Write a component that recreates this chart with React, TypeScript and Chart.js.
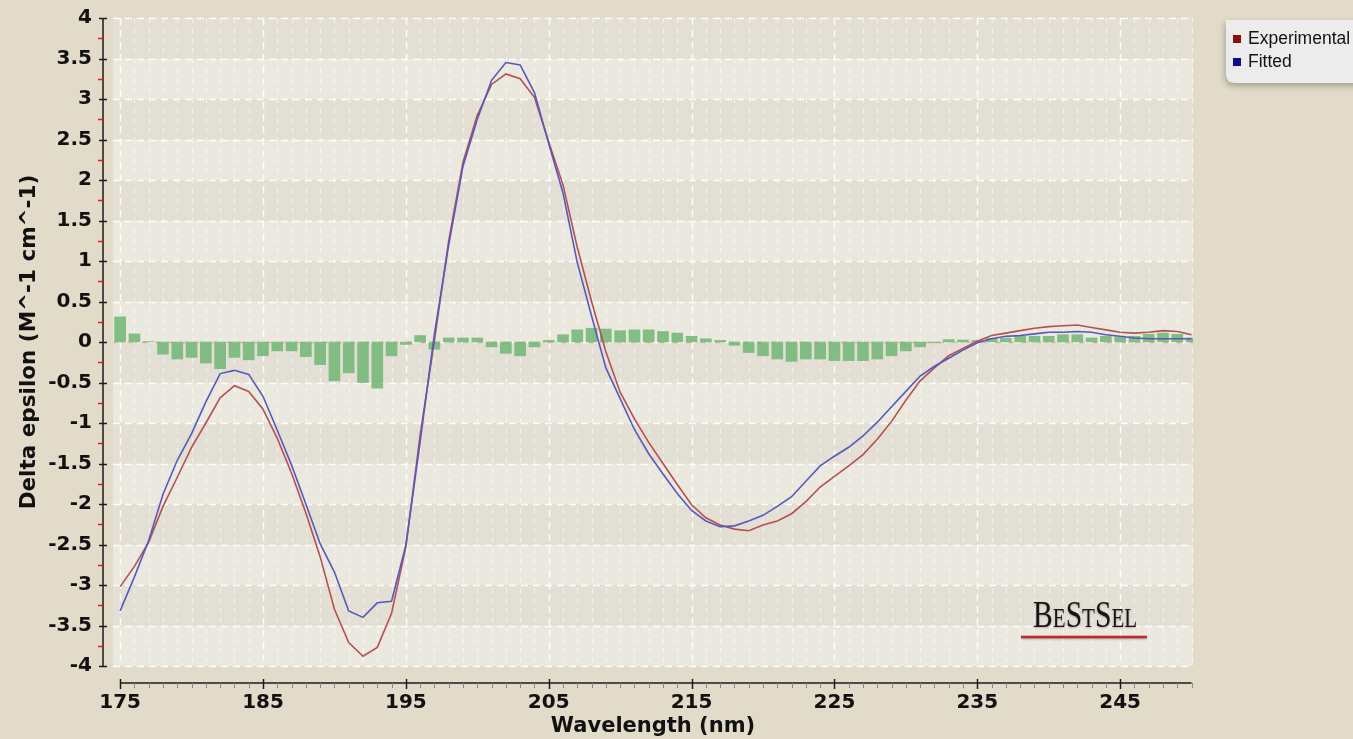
import { useEffect, useRef } from 'react';
import { Chart, registerables } from 'chart.js';

Chart.register(...registerables);

// ---------- data ----------
const wavelengths = [
  175, 176, 177, 178, 179, 180, 181, 182, 183, 184, 185, 186, 187, 188, 189, 190, 191, 192, 193,
  194, 195, 196, 197, 198, 199, 200, 201, 202, 203, 204, 205, 206, 207, 208, 209, 210, 211, 212,
  213, 214, 215, 216, 217, 218, 219, 220, 221, 222, 223, 224, 225, 226, 227, 228, 229, 230, 231,
  232, 233, 234, 235, 236, 237, 238, 239, 240, 241, 242, 243, 244, 245, 246, 247, 248, 249, 250,
];

const experimental = [
  -3.02, -2.77, -2.47, -2.03, -1.67, -1.3, -1.0, -0.69, -0.54, -0.61, -0.83, -1.19, -1.62, -2.11,
  -2.65, -3.3, -3.71, -3.88, -3.77, -3.35, -2.53, -1.15, 0.02, 1.25, 2.22, 2.8, 3.18, 3.31, 3.25,
  3.02, 2.47, 1.94, 1.17, 0.5, -0.12, -0.62, -0.95, -1.24, -1.5, -1.76, -2.01, -2.17, -2.26, -2.31,
  -2.33, -2.26, -2.21, -2.12, -1.97, -1.79, -1.66, -1.53, -1.39, -1.2, -0.98, -0.72, -0.48, -0.32,
  -0.17, -0.08, 0.01, 0.08, 0.11, 0.14, 0.17, 0.19, 0.2, 0.21, 0.18, 0.15, 0.12, 0.11, 0.12, 0.14,
  0.13, 0.09,
];

const fitted = [
  -3.32, -2.9, -2.45, -1.88, -1.46, -1.13, -0.74, -0.39, -0.35, -0.4, -0.67, -1.09, -1.52, -2.0,
  -2.49, -2.84, -3.32, -3.4, -3.22, -3.2, -2.51, -1.23, 0.1, 1.2, 2.17, 2.75, 3.23, 3.45, 3.42,
  3.08, 2.45, 1.84, 0.98, 0.32, -0.32, -0.7, -1.08, -1.38, -1.63, -1.87, -2.08, -2.21, -2.28,
  -2.27, -2.21, -2.14, -2.03, -1.91, -1.72, -1.53, -1.41, -1.3, -1.16, -0.99, -0.8, -0.61, -0.42,
  -0.3, -0.2, -0.1, -0.01, 0.04, 0.07, 0.08, 0.1, 0.12, 0.12, 0.13, 0.12, 0.09, 0.07, 0.05, 0.04,
  0.04, 0.04, 0.04,
];

const residuals = [
  0.31, 0.1, 0.005, -0.15, -0.21, -0.19, -0.26, -0.33, -0.19, -0.22, -0.17, -0.11, -0.11, -0.18,
  -0.28, -0.48, -0.38, -0.5, -0.57, -0.17, -0.03, 0.08, -0.09, 0.05, 0.05, 0.05, -0.06, -0.14,
  -0.17, -0.06, 0.02, 0.09, 0.15, 0.17, 0.16, 0.14, 0.15, 0.15, 0.13, 0.11, 0.07, 0.04, 0.02,
  -0.04, -0.13, -0.17, -0.21, -0.24, -0.21, -0.21, -0.23, -0.23, -0.23, -0.21, -0.17, -0.11,
  -0.06, -0.01, 0.03, 0.025, 0.02, 0.045, 0.045, 0.07, 0.07, 0.07, 0.09, 0.09, 0.05, 0.07, 0.065,
  0.07, 0.095, 0.11, 0.095, 0.05,
];

const xTickValues = [175, 185, 195, 205, 215, 225, 235, 245];
const seriesNames = ['Experimental', 'Fitted'];
const xTitle = 'Wavelength (nm)';
const yTitle = 'Delta epsilon (M^-1 cm^-1)';
const logoParts = ['B', 'E', 'S', 'T', 'S', 'EL'];

// ---------- styles ----------
const PAGE_BG = '#e2dbca';
const BAND_LIGHT = '#ebe8df';
const BAND_DARK = '#e3dfd4';
const RED = '#b5504f';
const BLUE = '#5459bd';
const GREEN = 'rgba(112,182,116,0.85)';
const AXIS_FONT = '"DejaVu Sans", Verdana, sans-serif';

const decorPlugin = {
  id: 'decor',
  beforeDatasetsDraw(chart: any) {
    const { ctx, chartArea: ca, scales } = chart;
    const x = scales.x;
    const y = scales.y;
    ctx.save();
    for (let i = 0; i < 16; i++) {
      const v0 = -4 + i * 0.5;
      const top = y.getPixelForValue(v0 + 0.5);
      const bot = y.getPixelForValue(v0);
      ctx.fillStyle = i % 2 === 0 ? BAND_LIGHT : BAND_DARK;
      ctx.fillRect(ca.left, top, ca.right - ca.left, bot - top);
    }
    ctx.lineWidth = 1;
    ctx.setLineDash([5, 5]);
    ctx.strokeStyle = 'rgba(255,255,255,0.55)';
    for (const w of wavelengths) {
      if ((w - 175) % 10 === 0) continue;
      const px = Math.round(x.getPixelForValue(w)) + 0.5;
      ctx.beginPath();
      ctx.moveTo(px, ca.top);
      ctx.lineTo(px, ca.bottom);
      ctx.stroke();
    }
    ctx.lineWidth = 1.5;
    ctx.setLineDash([7, 5]);
    ctx.strokeStyle = 'rgba(255,255,255,0.9)';
    for (const w of xTickValues) {
      const px = Math.round(x.getPixelForValue(w)) + 0.5;
      ctx.beginPath();
      ctx.moveTo(px, ca.top);
      ctx.lineTo(px, ca.bottom);
      ctx.stroke();
    }
    for (let i = 0; i <= 16; i++) {
      const py = Math.round(y.getPixelForValue(-4 + i * 0.5)) + 0.5;
      ctx.beginPath();
      ctx.moveTo(ca.left, py);
      ctx.lineTo(ca.right, py);
      ctx.stroke();
    }
    ctx.lineWidth = 1.5;
    ctx.setLineDash([5, 9]);
    ctx.strokeStyle = 'rgba(226,130,118,0.55)';
    const z = Math.round(y.getPixelForValue(0)) + 0.5;
    ctx.beginPath();
    ctx.moveTo(ca.left, z);
    ctx.lineTo(ca.right, z);
    ctx.stroke();
    ctx.restore();
  },
  afterDraw(chart: any) {
    const { ctx, chartArea: ca, scales } = chart;
    const x = scales.x;
    const y = scales.y;
    ctx.save();
    ctx.setLineDash([]);
    const ax = ca.left - 10;
    ctx.strokeStyle = '#1a1a1a';
    ctx.lineWidth = 1.5;
    ctx.beginPath();
    ctx.moveTo(ax, y.getPixelForValue(4));
    ctx.lineTo(ax, y.getPixelForValue(-4));
    ctx.stroke();
    for (let i = 0; i <= 16; i++) {
      const py = Math.round(y.getPixelForValue(-4 + i * 0.5)) + 0.5;
      ctx.beginPath();
      ctx.moveTo(ax - 4, py);
      ctx.lineTo(ax + 4, py);
      ctx.stroke();
    }
    ctx.strokeStyle = '#ff1010';
    for (let i = 0; i < 16; i++) {
      const py = Math.round(y.getPixelForValue(-3.75 + i * 0.5)) + 0.5;
      ctx.beginPath();
      ctx.moveTo(ax - 5, py);
      ctx.lineTo(ax, py);
      ctx.stroke();
    }
    const ay = ca.bottom + 17;
    ctx.strokeStyle = '#1a1a1a';
    ctx.beginPath();
    ctx.moveTo(x.getPixelForValue(175), ay);
    ctx.lineTo(x.getPixelForValue(250), ay);
    ctx.stroke();
    ctx.lineWidth = 1;
    ctx.strokeStyle = '#8a8a8a';
    for (const w of wavelengths) {
      const px = Math.round(x.getPixelForValue(w)) + 0.5;
      ctx.beginPath();
      ctx.moveTo(px, ay);
      ctx.lineTo(px, ay + 5);
      ctx.stroke();
    }
    ctx.lineWidth = 1.5;
    ctx.strokeStyle = '#1a1a1a';
    for (const w of xTickValues) {
      const px = Math.round(x.getPixelForValue(w)) + 0.5;
      ctx.beginPath();
      ctx.moveTo(px, ay - 4);
      ctx.lineTo(px, ay + 6);
      ctx.stroke();
    }

    const lx = 1226;
    const ly = 20;
    const lw = 140;
    const lh = 63;
    ctx.save();
    ctx.shadowColor = 'rgba(0,0,0,0.28)';
    ctx.shadowBlur = 6;
    ctx.shadowOffsetX = -1;
    ctx.shadowOffsetY = 3;
    ctx.fillStyle = '#ececec';
    ctx.beginPath();
    ctx.moveTo(lx, ly);
    ctx.lineTo(lx + lw, ly);
    ctx.lineTo(lx + lw, ly + lh);
    ctx.lineTo(lx + 9, ly + lh);
    ctx.quadraticCurveTo(lx, ly + lh, lx, ly + lh - 9);
    ctx.closePath();
    ctx.fill();
    ctx.restore();
    const swatches = ['#8b0d0d', '#0d0d8b'];
    ctx.font = '17.5px "Liberation Sans", Arial, sans-serif';
    ctx.textBaseline = 'middle';
    ctx.textAlign = 'left';
    seriesNames.forEach((name, i) => {
      const cy = 39 + i * 23;
      ctx.fillStyle = swatches[i];
      ctx.fillRect(1233, cy - 4, 8, 8);
      ctx.fillStyle = '#111';
      ctx.fillText(name, 1248, cy);
    });

    ctx.save();
    ctx.translate(1033, 627);
    ctx.scale(0.78, 1);
    ctx.fillStyle = '#151515';
    ctx.textBaseline = 'alphabetic';
    ctx.shadowColor = 'rgba(0,0,0,0.25)';
    ctx.shadowBlur = 2;
    ctx.shadowOffsetY = 1;
    let cx = 0;
    logoParts.forEach((p, i) => {
      ctx.font = (i % 2 === 0 ? '38px' : '27px') + ' "Liberation Serif", "Times New Roman", serif';
      ctx.fillText(p, cx, 0);
      cx += ctx.measureText(p).width;
    });
    ctx.restore();
    ctx.save();
    ctx.shadowColor = 'rgba(0,0,0,0.3)';
    ctx.shadowBlur = 2;
    ctx.shadowOffsetY = 1;
    ctx.strokeStyle = '#c0282a';
    ctx.lineWidth = 2.5;
    ctx.beginPath();
    ctx.moveTo(1021, 637);
    ctx.lineTo(1147, 637);
    ctx.stroke();
    ctx.restore();
    ctx.restore();
  },
};

export default function App() {
  const canvasRef = useRef<HTMLCanvasElement | null>(null);

  useEffect(() => {
    const canvas = canvasRef.current;
    if (!canvas) return;
    const chart = new Chart(canvas, {
      type: 'line',
      data: {
        datasets: [
          {
            type: 'line',
            label: seriesNames[1],
            data: wavelengths.map((w, i) => ({ x: w, y: fitted[i] })),
            borderColor: BLUE,
            borderWidth: 1.6,
            pointRadius: 0,
            tension: 0,
            order: 0,
          },
          {
            type: 'line',
            label: seriesNames[0],
            data: wavelengths.map((w, i) => ({ x: w, y: experimental[i] })),
            borderColor: RED,
            borderWidth: 1.6,
            pointRadius: 0,
            tension: 0,
            order: 1,
          },
          {
            type: 'bar',
            label: 'Residual',
            data: wavelengths.map((w, i) => ({ x: w, y: residuals[i] })),
            backgroundColor: GREEN,
            borderWidth: 0,
            barThickness: 11,
            order: 2,
          },
        ],
      } as any,
      options: {
        animation: false,
        responsive: false,
        devicePixelRatio: 1,
        layout: { padding: { top: 18, right: 160, left: 0, bottom: 0 } },
        plugins: { legend: { display: false }, tooltip: { enabled: false } },
        scales: {
          x: {
            type: 'linear',
            min: 174.5,
            max: 250.1,
            offset: false,
            grid: { display: false, drawTicks: false },
            border: { display: false },
            afterBuildTicks: (scale: any) => {
              scale.ticks = xTickValues.map((v) => ({ value: v }));
            },
            afterFit: (scale: any) => {
              scale.height = 73;
            },
            ticks: {
              autoSkip: false,
              maxRotation: 0,
              padding: 25,
              color: '#111',
              font: { family: AXIS_FONT, size: 20, weight: 'bold' },
              callback: (v: any) => String(v),
            },
            title: {
              display: true,
              text: xTitle,
              color: '#111',
              padding: { top: 0, bottom: 0 },
              font: { family: AXIS_FONT, size: 21, weight: 'bold' },
            },
          },
          y: {
            type: 'linear',
            min: -4,
            max: 4,
            grid: { display: false, drawTicks: false },
            border: { display: false },
            afterFit: (scale: any) => {
              scale.width = 113;
              scale.paddingTop = 0;
              scale.paddingBottom = 0;
            },
            ticks: {
              stepSize: 0.5,
              padding: 21,
              color: '#111',
              font: { family: AXIS_FONT, size: 20, weight: 'bold' },
              callback: (v: any) => String(Number(v)),
            },
            title: {
              display: true,
              text: yTitle,
              color: '#111',
              padding: { top: 17, bottom: 0 },
              font: { family: AXIS_FONT, size: 21.5, weight: 'bold' },
            },
          },
        },
      } as any,
      plugins: [decorPlugin],
    });
    return () => chart.destroy();
  }, []);

  return (
    <div
      style={{
        position: 'fixed',
        left: 0,
        top: 0,
        width: 1353,
        height: 739,
        background: PAGE_BG,
        overflow: 'hidden',
      }}
    >
      <canvas ref={canvasRef} width={1353} height={739} style={{ display: 'block' }} />
    </div>
  );
}
